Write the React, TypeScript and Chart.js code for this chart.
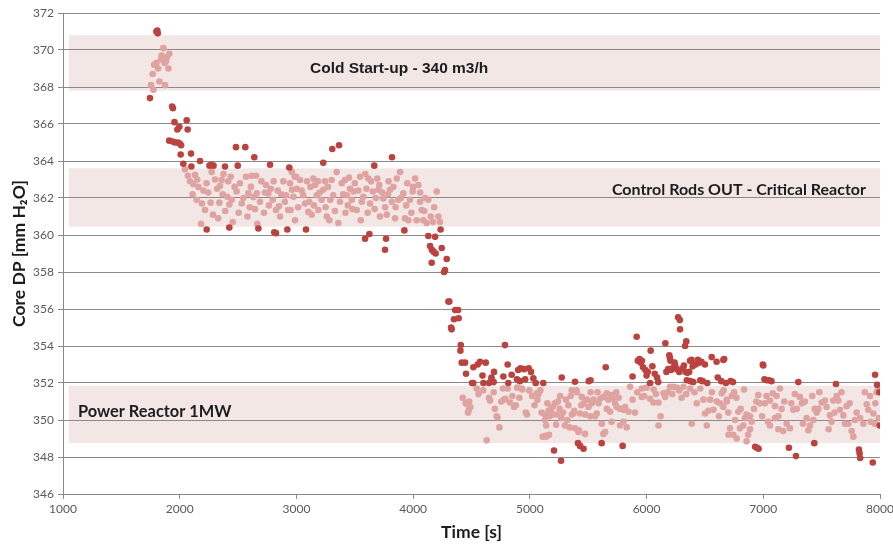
import React, { useEffect, useRef } from "react";
import { Chart, registerables } from "chart.js";

Chart.register(...registerables);

// ---- axis ranges / ticks ----
const X_MIN = 1000;
const X_MAX = 8000;
const X_STEP = 1000;
const Y_MIN = 346;
const Y_MAX = 372;
const Y_STEP = 2;

// ---- operating bands ----
const bandLow = [367.8, 360.45, 348.75];
const bandHigh = [370.8, 363.6, 351.85];
const bandFrom = [1050, 1050, 1050];
const bandTo = [8000, 8000, 8000];
const bandLabels = [
  "Cold Start-up - 340 m3/h",
  "Control Rods OUT - Critical Reactor",
  "Power Reactor 1MW",
];

// ---- measurements outside the bands (dark) [time s, DP mm H2O] ----
const outsideBand: [number, number][] = [
  [1745, 367.4], [1800, 371.0], [1808, 371.05], [1812, 370.9],
  [1910, 365.1], [1935, 366.95], [1942, 366.85], [1940, 365.05], [1955, 366.1], [1960, 365.0],
  [1980, 365.7], [1985, 365.0], [1997, 365.85], [2000, 364.95], [2012, 364.85], [2008, 364.35],
  [2031, 363.85], [2060, 366.2], [2068, 365.7], [2097, 364.4], [2100, 363.7],
  [2174, 364.0], [2255, 363.75], [2270, 363.8], [2290, 363.75], [2388, 363.7], [2482, 364.75],
  [2497, 363.75], [2562, 364.75], [2639, 364.2], [2774, 363.8], [2939, 363.65],
  [2231, 360.3], [2425, 360.4], [2674, 360.35], [2810, 360.15], [2825, 360.1], [2922, 360.3], [3082, 360.3],
  [3230, 363.9], [3307, 364.65], [3365, 364.85], [3667, 363.75], [3819, 364.2],
  [3588, 359.8], [3625, 360.05], [3759, 359.2], [3768, 359.8], [3925, 360.25],
  [4130, 359.95], [4145, 359.4], [4159, 358.5], [4160, 359.2], [4175, 359.1], [4188, 359.9],
  [4193, 359.0], [4235, 360.3], [4245, 359.3], [4265, 358.0], [4273, 358.1], [4288, 358.7],
  [4302, 356.4], [4310, 356.4], [4325, 355.0], [4330, 354.9], [4350, 355.45], [4360, 355.95],
  [4385, 355.95], [4390, 355.5], [4405, 353.75], [4408, 354.05],
  [4416, 353.1], [4445, 353.1], [4453, 352.5], [4505, 352.0], [4515, 352.0], [4516, 352.85],
  [4553, 353.0], [4573, 353.15], [4594, 352.4], [4602, 352.0], [4622, 353.1], [4650, 352.0],
  [4671, 352.3], [4672, 352.2], [4690, 352.05], [4693, 352.6], [4773, 352.35], [4787, 354.05],
  [4810, 353.0], [4815, 352.0], [4844, 352.45], [4890, 352.2], [4900, 352.7], [4915, 352.1],
  [4920, 352.8], [4950, 352.75], [4960, 352.2], [4990, 352.8], [5010, 352.6], [5030, 352.25],
  [5050, 352.0], [5115, 352.0], [5273, 352.3], [5387, 352.07], [5505, 352.1], [5520, 352.15], [5650, 352.85],
  [5880, 352.35], [5915, 354.5], [5925, 353.2], [5940, 353.3], [5950, 353.1], [5960, 353.2],
  [5970, 352.85], [5990, 352.7], [6000, 352.4], [6010, 352.6], [6030, 352.0], [6035, 353.75],
  [6050, 352.9], [6070, 352.5], [6090, 352.3], [6100, 352.05], [6161, 354.15], [6170, 352.6],
  [6185, 352.75], [6195, 353.5], [6200, 353.35], [6205, 353.2], [6210, 352.7], [6230, 352.85],
  [6240, 353.1], [6245, 352.95], [6260, 352.75], [6270, 355.55], [6280, 352.6], [6285, 355.4],
  [6287, 354.9], [6310, 352.8], [6320, 352.95], [6330, 354.0], [6335, 352.6], [6340, 354.25],
  [6345, 352.15], [6350, 352.55], [6365, 352.6], [6372, 353.2], [6375, 352.1], [6385, 353.25],
  [6395, 352.9], [6400, 352.05], [6420, 353.0], [6440, 353.25], [6450, 353.1], [6460, 352.15],
  [6470, 353.15], [6480, 352.1], [6500, 353.0], [6520, 352.0], [6558, 353.4], [6600, 353.15],
  [6610, 352.3], [6640, 352.1], [6658, 353.25], [6665, 353.3], [6680, 352.0], [6720, 352.1], [6740, 352.05],
  [6996, 353.0], [7000, 352.95], [7010, 352.2], [7030, 352.15], [7050, 352.15], [7070, 352.1],
  [7300, 352.05], [7623, 351.95], [7958, 352.45], [7975, 351.9], [7995, 351.5], [7998, 349.7],
  [5207, 348.35], [5267, 347.8], [5413, 348.75], [5430, 348.6], [5460, 348.45], [5615, 348.75],
  [5795, 348.6], [6930, 348.55], [6945, 348.5], [6960, 348.45], [7220, 348.5], [7280, 348.05],
  [7437, 348.75], [7820, 348.4], [7825, 348.2], [7830, 347.95], [7938, 347.7],
];

// ---- measurements inside the bands (light) [time s, DP mm H2O] ----
const insideBand: [number, number][] = [
  // cold start-up
  [1754, 368.1], [1768, 368.7], [1774, 367.85], [1780, 369.2], [1800, 369.3], [1815, 369.0],
  [1826, 368.3], [1840, 369.5], [1845, 369.7], [1860, 370.1], [1870, 369.3], [1874, 368.1],
  [1883, 369.4], [1890, 369.6], [1903, 369.0], [1911, 369.8],
  // control rods out
  [2045, 363.55], [2088, 362.9], [2131, 363.25], [2117, 362.75], [2160, 362.6], [2203, 362.4],
  [2145, 361.9], [2217, 361.35], [2183, 360.6], [2265, 361.75], [2274, 363.4], [2303, 363.0],
  [2345, 362.65], [2359, 362.97], [2368, 362.2], [2340, 361.75], [2408, 362.07], [2437, 363.15],
  [2425, 361.65], [2454, 360.7], [2488, 362.35], [2516, 362.8], [2531, 361.7], [2568, 363.15],
  [2588, 362.25], [2617, 363.2], [2654, 363.2], [2631, 362.05], [2660, 362.25], [2688, 361.8],
  [2722, 361.2], [2759, 362.25], [2780, 362.5], [2797, 361.9], [2825, 361.35], [2850, 361.55],
  [2888, 362.9], [2911, 362.15], [2930, 361.35], [2665, 360.6], [2988, 360.8], [2997, 363.15],
  [2962, 362.45], [2960, 363.4], [2985, 363.15], [3003, 362.5], [3031, 362.97], [2974, 362.07],
  [2950, 361.35], [3059, 362.15], [3074, 361.7], [3102, 361.25], [3131, 361.1], [3145, 363.05],
  [3160, 362.7], [3174, 362.15], [3188, 361.35], [3216, 361.9], [3230, 362.45], [3245, 362.9],
  [3260, 361.0], [3282, 360.8], [3302, 362.97], [3316, 362.15], [3345, 363.4], [3359, 360.65],
  [3373, 361.8], [3388, 362.8], [3416, 362.97], [3431, 362.15], [3459, 362.5], [3474, 361.9],
  [3488, 362.35], [3516, 361.35], [3545, 363.15], [3551, 360.8], [3574, 362.07], [3616, 363.05],
  [3631, 361.7], [3654, 362.35], [3693, 363.05], [3702, 362.45], [3716, 361.0], [3745, 361.97],
  [3774, 361.1], [3802, 362.45], [3817, 361.8], [3845, 360.9], [3860, 363.05], [3873, 361.9],
  [3888, 363.4], [3916, 362.25], [3930, 360.9], [3960, 360.8], [3973, 361.9], [3996, 362.35],
  [4016, 363.05], [4030, 360.8], [4045, 362.7], [4059, 361.8], [4073, 361.35], [4087, 360.8],
  [4102, 362.0], [4116, 360.65], [4202, 362.35], [4216, 361.0], [4230, 360.7],
  [2230, 362.8], [2390, 361.3], [2600, 361.5], [2740, 362.7], [2870, 362.2], [3120, 362.6],
  [3200, 362.3], [3440, 361.6], [3500, 362.8], [3600, 362.5], [3680, 362.0], [3790, 362.9],
  [2070, 363.2], [2110, 362.2], [2150, 363.0], [2190, 361.7], [2245, 362.3], [2285, 361.1],
  [2320, 362.5], [2330, 360.9], [2375, 363.3], [2415, 362.9], [2445, 361.9], [2470, 362.6],
  [2505, 361.2], [2545, 362.0], [2580, 361.0], [2610, 362.6], [2645, 361.4], [2700, 362.9],
  [2730, 362.3], [2765, 361.6], [2805, 362.9], [2840, 362.4], [2860, 361.0], [2900, 361.8],
  [2945, 362.8], [3015, 361.5], [3045, 362.4], [3090, 362.9], [3110, 361.8], [3150, 361.6],
  [3185, 362.9], [3250, 361.5], [3270, 362.6], [3290, 361.9], [3330, 361.3], [3400, 362.2],
  [3420, 361.2], [3450, 363.1], [3480, 361.4], [3530, 362.4], [3560, 361.8], [3590, 363.3],
  [3610, 361.2], [3640, 362.9], [3670, 361.4], [3710, 362.7], [3735, 362.3], [3760, 361.5],
  [3785, 362.2], [3830, 362.6], [3850, 361.5], [3895, 362.0], [3940, 361.6], [3950, 362.8],
  [3985, 361.2], [4000, 362.6], [4060, 362.3], [4095, 361.3], [4130, 361.9], [4150, 361.0],
  [4170, 360.7], [4180, 361.5],
  // power reactor 1MW
  [4425, 351.2], [4450, 350.9], [4465, 350.85], [4480, 351.0], [4470, 350.4], [4478, 350.55],
  [4545, 351.7], [4630, 348.9], [4650, 351.2], [4659, 351.05], [4716, 350.2], [4722, 350.15],
  [4739, 349.6], [4755, 351.0], [4780, 351.1], [4790, 351.15], [4830, 350.95], [4865, 350.7],
  [4880, 350.8], [4770, 351.7], [4810, 351.7], [4890, 351.75], [4930, 351.7], [4935, 351.65],
  [4965, 350.4], [4975, 350.3], [5060, 351.45], [5065, 351.1], [5075, 351.4], [5110, 349.1],
  [5135, 349.15], [5140, 349.1], [5165, 349.2], [5140, 349.7], [5130, 350.0], [5225, 349.75],
  [5130, 350.3], [5150, 350.9], [5160, 350.5], [5170, 350.2], [5180, 350.6], [5195, 350.7],
  [5215, 350.9], [5240, 351.0], [5255, 350.6], [5270, 350.1], [5285, 350.4], [5300, 349.7],
  [5310, 351.1], [5330, 350.8], [5350, 351.3], [5360, 350.3], [5380, 350.5], [5400, 351.6],
  [5420, 349.45], [5359, 351.6], [5402, 351.5], [5445, 351.25], [5459, 350.9], [5488, 351.1],
  [5502, 350.7], [5530, 350.9], [5545, 351.1], [5588, 350.9], [5602, 351.15], [5630, 351.25],
  [5659, 351.45], [5673, 351.1], [5702, 351.35], [5716, 351.15], [5730, 350.9], [5745, 350.7],
  [5773, 350.6], [5802, 350.55], [5816, 350.7], [5845, 350.45], [5859, 351.8], [5688, 350.45],
  [5573, 350.35], [5559, 350.2], [5516, 350.2], [5473, 350.3], [5430, 350.35], [5373, 350.35],
  [5387, 349.55], [5416, 349.35], [5473, 349.25], [5616, 349.8], [5630, 349.25], [5645, 349.35],
  [5773, 349.7], [5802, 349.9], [5830, 349.6], [5959, 351.25], [5960, 351.7], [6000, 351.75],
  [6030, 351.15], [6059, 350.95], [6060, 351.65], [6102, 350.95], [6102, 349.7], [6145, 351.45],
  [6159, 351.25], [6202, 351.8], [6230, 351.8], [6259, 351.75], [6316, 351.8], [6373, 351.7],
  [6387, 349.8], [6487, 351.1], [6502, 350.35], [6516, 349.7], [6545, 351.1], [6573, 350.55],
  [6602, 351.0], [6630, 350.9], [6688, 351.1], [6702, 349.2],
  [6644, 351.45], [6687, 351.0], [6730, 351.3], [6658, 350.7], [6758, 350.0], [6786, 350.45],
  [6806, 350.6], [6835, 351.65], [6843, 350.1], [6857, 350.3], [6886, 350.2], [6900, 349.9],
  [6800, 349.55], [6715, 349.55], [6743, 349.2], [6772, 349.0], [6829, 349.7], [6886, 349.5],
  [6857, 348.85], [6957, 351.35], [6971, 350.9], [7014, 350.9], [7028, 351.3], [7057, 351.05],
  [7081, 351.45], [7100, 350.75], [7114, 351.3], [7143, 351.7], [7157, 350.6], [7057, 349.7],
  [7100, 350.1], [7129, 349.5], [7171, 349.4], [7200, 349.8], [7229, 349.55], [7257, 350.55],
  [7286, 350.6], [7314, 351.25], [7329, 350.9], [7357, 351.0], [7371, 350.1], [7386, 349.45],
  [7400, 349.7], [7429, 350.0], [7457, 350.4], [7471, 350.6], [7500, 350.95], [7529, 351.05],
  [7543, 350.7], [7571, 350.25], [7586, 349.9], [7600, 351.05], [7629, 351.3], [7643, 351.05],
  [7657, 350.55], [7686, 350.25], [7700, 349.8], [7729, 349.8], [7757, 349.4], [7772, 349.1],
  [7714, 350.75], [7786, 350.0], [7829, 350.1], [7857, 349.8], [7886, 350.85], [7900, 350.55],
  [7914, 351.3], [7943, 350.35], [7957, 349.8], [7971, 351.5], [7986, 351.75],
  [4490, 350.7], [4560, 351.4], [4600, 351.6], [4690, 351.5], [4700, 350.6], [4850, 351.3],
  [4910, 351.2], [4995, 351.6], [5020, 351.3], [5040, 350.8], [5090, 351.6], [5100, 350.4],
  [5200, 350.3], [5230, 350.3], [5260, 351.3], [5320, 350.0], [5340, 349.6], [5440, 350.8],
  [5520, 351.5], [5580, 351.5], [5660, 350.6], [5700, 349.9], [5740, 351.5], [5760, 351.2],
  [5880, 351.1], [5900, 350.4], [5920, 351.5], [5980, 351.3], [6080, 351.4], [6120, 350.2],
  [6180, 351.5], [6220, 351.4], [6280, 351.6], [6300, 351.2], [6340, 351.4], [6410, 351.5],
  [6430, 350.9], [6460, 351.7], [6530, 350.5], [6560, 351.5], [6620, 350.2], [6660, 351.6],
  [6700, 350.4], [6750, 351.5], [6770, 351.2], [6870, 349.2], [6920, 350.6], [6940, 351.0],
  [6990, 350.2], [7040, 349.9], [7130, 350.2], [7180, 351.0], [7240, 350.9], [7270, 351.4],
  [7340, 349.8], [7420, 351.3], [7440, 350.6], [7480, 351.5], [7560, 349.5], [7610, 350.4],
  [7670, 351.5], [7740, 350.9], [7800, 350.4], [7870, 351.5], [7920, 349.9], [7960, 350.9],
  [7990, 350.1],
];

// label anchors (data coordinates) and alignment
const labelAnchors = [
  { t: 3116, v: 368.97, align: "left" as CanvasTextAlign, font: "bold 15.5px 'Liberation Sans', Arial, sans-serif" },
  { t: 7880, v: 362.43, align: "right" as CanvasTextAlign, font: "bold 16px Lato, 'Open Sans', sans-serif" },
  { t: 1128, v: 350.45, align: "left" as CanvasTextAlign, font: "bold 16.4px Lato, 'Open Sans', sans-serif" },
];

const bandsPlugin = {
  id: "bands",
  beforeDraw(chart: any) {
    const { ctx, scales } = chart;
    const x = scales.x;
    const y = scales.y;
    ctx.save();
    ctx.fillStyle = "#F3E7E6";
    for (let i = 0; i < bandLow.length; i++) {
      const x0 = x.getPixelForValue(bandFrom[i]);
      const x1 = x.getPixelForValue(bandTo[i]);
      const y0 = y.getPixelForValue(bandHigh[i]);
      const y1 = y.getPixelForValue(bandLow[i]);
      ctx.fillRect(x0, y0, x1 - x0, y1 - y0);
    }
    ctx.restore();
  },
  beforeDatasetsDraw(chart: any) {
    const { ctx, scales } = chart;
    const x = scales.x;
    const y = scales.y;
    ctx.save();
    ctx.fillStyle = "#1c1c1c";
    ctx.textBaseline = "middle";
    for (let i = 0; i < bandLabels.length; i++) {
      const a = labelAnchors[i];
      ctx.font = a.font;
      ctx.textAlign = a.align;
      ctx.fillText(bandLabels[i], x.getPixelForValue(a.t), y.getPixelForValue(a.v));
    }
    ctx.restore();
  },
};

export default function App() {
  const canvasRef = useRef<HTMLCanvasElement | null>(null);

  useEffect(() => {
    const canvas = canvasRef.current;
    if (!canvas) return;
    const tickFont = { family: "Lato, 'Open Sans', sans-serif", size: 12 };
    const titleFont = { family: "Lato, 'Open Sans', sans-serif", size: 17.5, weight: "bold" as const };
    const chart = new Chart(canvas, {
      type: "scatter",
      data: {
        datasets: [
          {
            label: "outside",
            data: outsideBand.map(([t, v]) => ({ x: t, y: v })),
            backgroundColor: "#BA4340",
            borderWidth: 0,
            pointRadius: 3.3,
          },
          {
            label: "inside",
            data: insideBand.map(([t, v]) => ({ x: t, y: v })),
            backgroundColor: "#DFA3A1",
            borderWidth: 0,
            pointRadius: 3.3,
          },
        ],
      },
      options: {
        animation: false,
        responsive: false,
        maintainAspectRatio: false,
        layout: { padding: { top: 13, right: 13, left: 0, bottom: 0 }, autoPadding: false },
        plugins: {
          legend: { display: false },
          tooltip: { enabled: false },
        },
        scales: {
          x: {
            type: "linear",
            min: X_MIN,
            max: X_MAX,
            ticks: {
              stepSize: X_STEP,
              color: "#595959",
              font: tickFont,
              padding: 3,
              maxRotation: 0,
              callback: (v: any) => String(v),
            },
            grid: { drawOnChartArea: false, drawTicks: true, tickLength: 5, color: "#8a8a8a" },
            border: { display: true, color: "#8a8a8a" },
            title: { display: true, text: "Time [s]", color: "#1c1c1c", font: titleFont, padding: { top: 0, bottom: 3 } },
            afterFit: (s: any) => { s.height = 52; s.paddingLeft = 0; s.paddingRight = 0; },
          },
          y: {
            type: "linear",
            min: Y_MIN,
            max: Y_MAX,
            ticks: { stepSize: Y_STEP, color: "#595959", font: tickFont, padding: 4, callback: (v: any) => String(v) },
            grid: { color: "#8a8a8a", tickLength: 5, lineWidth: 1 },
            border: { display: true, color: "#8a8a8a" },
            title: { display: true, text: "Core DP [mm H\u2082O]", color: "#1c1c1c", font: titleFont, padding: { top: 9, bottom: 0 } },
            afterFit: (s: any) => { s.width = 63; s.paddingTop = 0; s.paddingBottom = 0; },
          },
        },
      },
      plugins: [bandsPlugin],
    });
    return () => chart.destroy();
  }, []);

  return (
    <div style={{ position: "fixed", left: 0, top: 0, width: 893, height: 546, background: "#fff" }}>
      <canvas ref={canvasRef} width={893} height={546} style={{ width: 893, height: 546 }} />
    </div>
  );
}
